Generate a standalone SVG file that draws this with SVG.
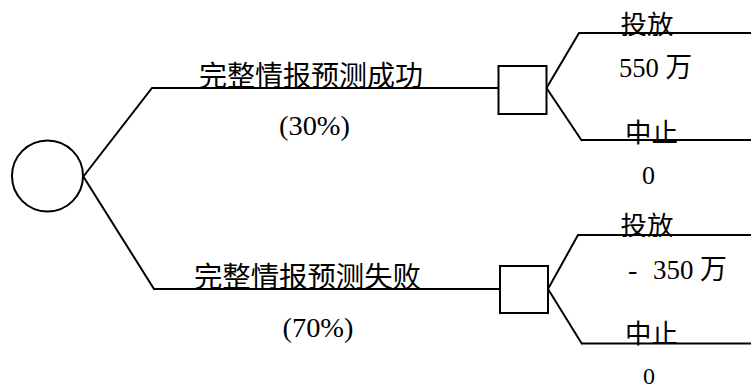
<svg xmlns="http://www.w3.org/2000/svg" width="751" height="390" viewBox="0 0 751 390">
<style>
.ln{fill:none;stroke:#000;stroke-width:2;stroke-linejoin:miter}
.nd{fill:#fff;stroke:#000;stroke-width:2}
.cn{font-family:"Noto Sans CJK SC","Noto Sans",sans-serif;fill:#000}
.rm{font-family:"Liberation Serif","Noto Sans CJK SC",serif;fill:#000}
</style>
<rect width="751" height="390" fill="#fff"/>
<g id="connectors">
<polyline class="ln" points="83,177 152,88 498,88"/>
<polyline class="ln" points="83,176 154,289 500,289"/>
<polyline class="ln" points="546.5,88 579,33 751,33"/>
<polyline class="ln" points="546.5,88 582,141"/>
<line class="ln" x1="581" y1="140" x2="751" y2="140"/>
<polyline class="ln" points="548,289 578,235 751,235"/>
<polyline class="ln" points="548,289 582,344"/>
<line class="ln" x1="581" y1="343.5" x2="751" y2="343.5"/>
</g>
<g id="chance-node">
<circle class="nd" cx="47.5" cy="176" r="35.5"/>
</g>
<g id="decision-success">
<rect class="nd" x="498.5" y="66" width="48" height="48"/>
</g>
<g id="decision-failure">
<rect class="nd" x="500" y="266" width="48" height="47"/>
</g>
<g id="labels">
<text class="cn" x="199" y="85.5" font-size="28" textLength="224" lengthAdjust="spacingAndGlyphs">完整情报预测成功</text>
<text class="rm" x="279" y="135" font-size="28" textLength="71" lengthAdjust="spacingAndGlyphs">(30%)</text>
<text class="cn" x="194" y="286.5" font-size="28" textLength="227" lengthAdjust="spacingAndGlyphs">完整情报预测失败</text>
<text class="rm" x="282.5" y="337" font-size="28" textLength="71" lengthAdjust="spacingAndGlyphs">(70%)</text>
<text class="cn" x="620.5" y="34" font-size="26" textLength="53" lengthAdjust="spacingAndGlyphs">投放</text>
<text class="rm" x="619" y="76.5" font-size="28" textLength="73" lengthAdjust="spacingAndGlyphs">550 万</text>
<text class="cn" x="625" y="141.5" font-size="26" textLength="53" lengthAdjust="spacingAndGlyphs">中止</text>
<text class="rm" x="642" y="184" font-size="26">0</text>
<text class="cn" x="620.5" y="234.5" font-size="26" textLength="53" lengthAdjust="spacingAndGlyphs">投放</text>
<text class="rm" x="628" y="278.5" font-size="28">-</text>
<text class="rm" x="653" y="278.5" font-size="28" textLength="74" lengthAdjust="spacingAndGlyphs">350 万</text>
<text class="cn" x="625" y="342.5" font-size="26" textLength="53" lengthAdjust="spacingAndGlyphs">中止</text>
<text class="rm" x="643" y="384" font-size="24">0</text>
</g>
</svg>
